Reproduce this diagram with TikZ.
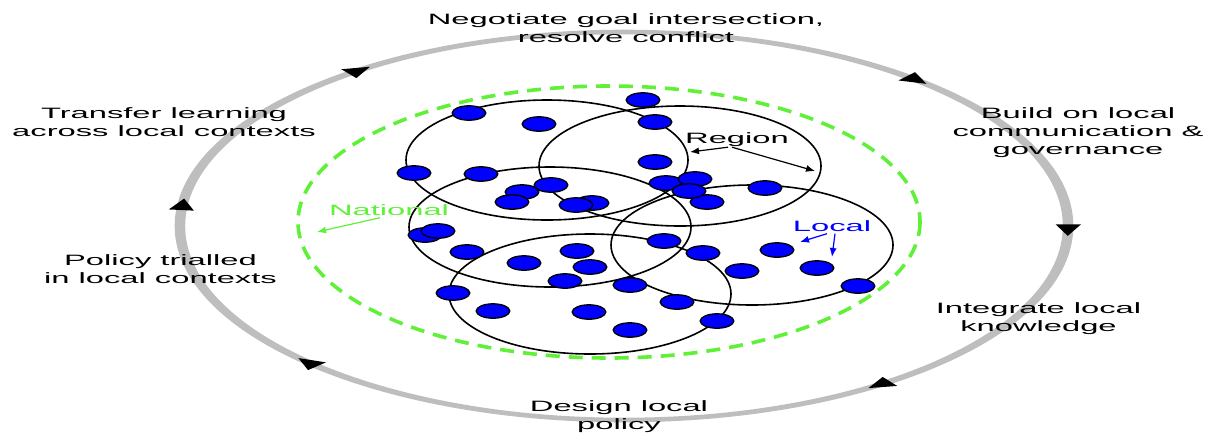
\documentclass[tikz,border=0pt]{standalone}
\usepackage{fontspec}
\newfontfamily\labelfont{Liberation Sans}[FakeStretch=2.18]
\usetikzlibrary{arrows.meta}
\definecolor{natgreen}{RGB}{96,240,56}
\definecolor{ringgray}{RGB}{190,190,190}

\begin{document}
\begin{tikzpicture}[x=1pt,y=-1pt,
  txt/.style={font=\labelfont\fontsize{15}{18}\selectfont,align=center,inner sep=0pt},
  region/.style={draw=black,line width=1.6pt},
  localdot/.style={draw=black,fill=blue,line width=1.3pt},
  pointer/.style={-{Latex[length=9pt,width=7pt]},line width=1.2pt}]
\useasboundingbox (0,0) rectangle (1206,432);

% policy cycle
\begin{scope}[shift={(624,226)},xscale=2.289]
\fill[ringgray,even odd rule] (0,0) circle (196.3) (0,0) circle (191.7);
\fill[rotate=126.8] (194,6.5) -- (188.5,-5) -- (199.5,-5) -- cycle;
\fill[rotate=49] (194,6.5) -- (188.5,-5) -- (199.5,-5) -- cycle;
\fill[rotate=-1] (194,6.5) -- (188.5,-5) -- (199.5,-5) -- cycle;
\fill[rotate=-54.7] (194,6.5) -- (188.5,-5) -- (199.5,-5) -- cycle;
\fill[rotate=-135.2] (194,6.5) -- (188.5,-5) -- (199.5,-5) -- cycle;
\fill[rotate=-186.2] (194,6.5) -- (188.5,-5) -- (199.5,-5) -- cycle;
\end{scope}

\node[txt] (negotiate) at (626,28.5) {Negotiate goal intersection,\\resolve conflict};
\node[txt] (transfer) at (164,121.7) {Transfer learning\\across local contexts};
\node[txt] (build) at (1078,132.2) {Build on local\\communication \&\\governance};
\node[txt] (trialled) at (160.5,269.2) {Policy trialled\\in local contexts};
\node[txt] (integrate) at (1038.5,318.2) {Integrate local\\knowledge};
\node[txt] (design) at (619,416.2) {Design local\\policy};

% national boundary
\draw[natgreen,line width=3.6pt,dash pattern=on 14pt off 9pt] (609,222) ellipse (311 and 136);

% regions
\draw[region] (547,160) ellipse (141 and 60);
\draw[region] (680,166) ellipse (141 and 60);
\draw[region] (550,227) ellipse (141 and 60);
\draw[region] (752,245) ellipse (141 and 60);
\draw[region] (590,294) ellipse (141 and 60);

% locals
\draw[localdot] (469,113) ellipse (16.8 and 7.2);
\draw[localdot] (643,100) ellipse (16.8 and 7.2);
\draw[localdot] (539,124) ellipse (16.8 and 7.2);
\draw[localdot] (655,122) ellipse (16.8 and 7.2);
\draw[localdot] (414,173) ellipse (16.8 and 7.2);
\draw[localdot] (481,174) ellipse (16.8 and 7.2);
\draw[localdot] (655,162) ellipse (16.8 and 7.2);
\draw[localdot] (551,185) ellipse (16.8 and 7.2);
\draw[localdot] (522,192) ellipse (16.8 and 7.2);
\draw[localdot] (512,202) ellipse (16.8 and 7.2);
\draw[localdot] (592,203) ellipse (16.8 and 7.2);
\draw[localdot] (576,205) ellipse (16.8 and 7.2);
\draw[localdot] (666,183) ellipse (16.8 and 7.2);
\draw[localdot] (695,179) ellipse (16.8 and 7.2);
\draw[localdot] (707,202) ellipse (16.8 and 7.2);
\draw[localdot] (689,191) ellipse (16.8 and 7.2);
\draw[localdot] (765,188) ellipse (16.8 and 7.2);
\draw[localdot] (425,235) ellipse (16.8 and 7.2);
\draw[localdot] (438,231) ellipse (16.8 and 7.2);
\draw[localdot] (467,252) ellipse (16.8 and 7.2);
\draw[localdot] (524,263) ellipse (16.8 and 7.2);
\draw[localdot] (577,251) ellipse (16.8 and 7.2);
\draw[localdot] (590,267) ellipse (16.8 and 7.2);
\draw[localdot] (664,241) ellipse (16.8 and 7.2);
\draw[localdot] (703,253) ellipse (16.8 and 7.2);
\draw[localdot] (777,250) ellipse (16.8 and 7.2);
\draw[localdot] (742,271) ellipse (16.8 and 7.2);
\draw[localdot] (817,268) ellipse (16.8 and 7.2);
\draw[localdot] (565,281) ellipse (16.8 and 7.2);
\draw[localdot] (630,285) ellipse (16.8 and 7.2);
\draw[localdot] (453,293) ellipse (16.8 and 7.2);
\draw[localdot] (493,311) ellipse (16.8 and 7.2);
\draw[localdot] (589,312) ellipse (16.8 and 7.2);
\draw[localdot] (677,302) ellipse (16.8 and 7.2);
\draw[localdot] (717,321) ellipse (16.8 and 7.2);
\draw[localdot] (630,330) ellipse (16.8 and 7.2);
\draw[localdot] (858,286) ellipse (16.8 and 7.2);

\node[txt] (region) at (737,140) {Region};
\node[txt,text=natgreen] (national) at (389,210) {National};
\node[txt,text=blue] (local) at (832,226) {Local};
\coordinate (regionL) at (690,152);
\coordinate (regionR) at (815,171);
\coordinate (nationalend) at (317,232);
\coordinate (localL) at (800,242);
\coordinate (localD) at (832,257);
\draw[pointer] ([xshift=-9pt]region.south) -- (regionL);
\draw[pointer] ([xshift=-5pt]region.south) -- (regionR);
\draw[pointer,natgreen] ([xshift=-9pt,yshift=-2pt]national.south) -- (nationalend);
\draw[pointer,blue] ([xshift=-5pt,yshift=-2pt]local.south) -- (localL);
\draw[pointer,blue] ([xshift=3pt,yshift=-2pt]local.south) -- (localD);

\end{tikzpicture}
\end{document}
